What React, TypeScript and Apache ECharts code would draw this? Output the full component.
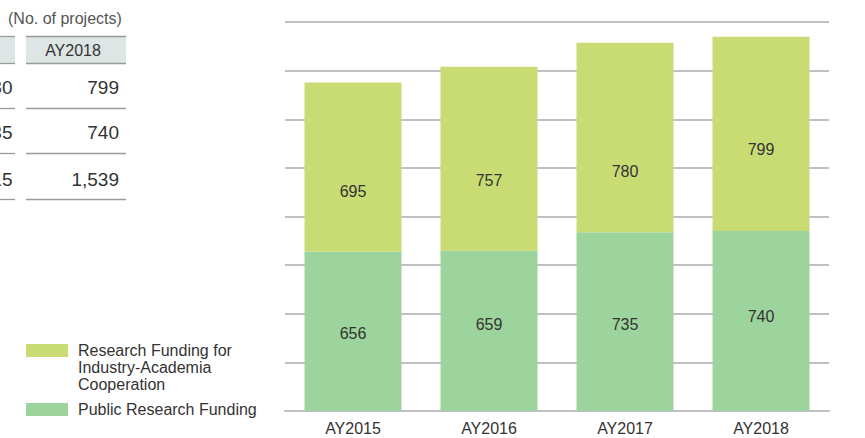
import React, { useEffect, useRef } from "react";
import * as echarts from "echarts";

const categories = ["AY2015", "AY2016", "AY2017", "AY2018"];
const publicFunding = [656, 659, 735, 740];
const industryFunding = [695, 757, 780, 799];
const legendNames = ["Research Funding for\nIndustry-Academia\nCooperation", "Public Research Funding"];
const tableUnit = "(No. of projects)";
const tableHeader = ["AY2017", "AY2018"];
const tableRows = [
  ["780", "799"],
  ["735", "740"],
  ["1,515", "1,539"],
];

const FONT = "'Liberation Sans', Arial, Helvetica, sans-serif";
const YELLOW = "#c9dc73";
const GREEN = "#9dd39c";
const GRID = "#c0c0c4";
const TEXT = "#333";

export default function App() {
  const ref = useRef<HTMLDivElement>(null);
  useEffect(() => {
    if (!ref.current) return;
    const chart = echarts.init(ref.current, null, { renderer: "svg" });
    const industryOffsets = [24, 22, 34, 16];
    const publicOffsets = [2, -6, 3, -5];

    const graphics: any[] = [];
    graphics.push({
      type: "text", x: 8, y: 18,
      style: { text: tableUnit, fill: "#555", font: `16px ${FONT}`, verticalAlign: "middle" },
    });
    // header cells
    graphics.push({ type: "rect", shape: { x: -10, y: 36.5, width: 25, height: 27 }, style: { fill: "#dde5e5" } });
    graphics.push({ type: "rect", shape: { x: 26, y: 36.5, width: 100, height: 27 }, style: { fill: "#dde5e5" } });
    [36.5, 63.5].forEach((y) => {
      graphics.push({ type: "line", shape: { x1: 0, y1: y, x2: 15, y2: y }, style: { stroke: "#9a9a9a", lineWidth: 1.3 } });
      graphics.push({ type: "line", shape: { x1: 26, y1: y, x2: 126, y2: y }, style: { stroke: "#9a9a9a", lineWidth: 1.3 } });
    });
    graphics.push({
      type: "text", x: 73, y: 50,
      style: { text: tableHeader[1], fill: TEXT, font: `16px ${FONT}`, align: "center", verticalAlign: "middle" },
    });
    const rowY = [87, 132, 179];
    const lineY = [108.5, 153.5, 199.5];
    tableRows.forEach((row, i) => {
      graphics.push({
        type: "text", x: 12.5, y: rowY[i],
        style: { text: row[0], fill: TEXT, font: `19px ${FONT}`, align: "right", verticalAlign: "middle" },
      });
      graphics.push({
        type: "text", x: 119, y: rowY[i],
        style: { text: row[1], fill: TEXT, font: `19px ${FONT}`, align: "right", verticalAlign: "middle" },
      });
      graphics.push({ type: "line", shape: { x1: 0, y1: lineY[i], x2: 15, y2: lineY[i] }, style: { stroke: "#9a9a9a", lineWidth: 1.3 } });
      graphics.push({ type: "line", shape: { x1: 26, y1: lineY[i], x2: 126, y2: lineY[i] }, style: { stroke: "#9a9a9a", lineWidth: 1.3 } });
    });
    // legend
    graphics.push({ type: "rect", shape: { x: 26, y: 344, width: 42, height: 13 }, style: { fill: YELLOW } });
    graphics.push({
      type: "text", x: 78, y: 341.5,
      style: { text: legendNames[0], fill: TEXT, font: `16px ${FONT}`, lineHeight: 17, verticalAlign: "top" },
    });
    graphics.push({ type: "rect", shape: { x: 26, y: 403, width: 42, height: 13 }, style: { fill: GREEN } });
    graphics.push({
      type: "text", x: 78, y: 400.5,
      style: { text: legendNames[1], fill: TEXT, font: `16px ${FONT}`, lineHeight: 17, verticalAlign: "top" },
    });

    chart.setOption({
      animation: false,
      textStyle: { fontFamily: FONT },
      grid: { left: 285, right: 36, top: 22, bottom: 27, containLabel: false },
      xAxis: {
        type: "category",
        data: categories,
        axisLine: { lineStyle: { color: GRID, width: 2 } },
        axisTick: { show: false },
        axisLabel: { color: TEXT, fontSize: 16, margin: 9, fontFamily: FONT },
      },
      yAxis: {
        type: "value",
        min: 0,
        max: 1600,
        interval: 200,
        axisLabel: { show: false },
        axisLine: { show: false },
        axisTick: { show: false },
        splitLine: { lineStyle: { color: GRID, width: 2 } },
      },
      series: [
        {
          name: legendNames[1],
          type: "bar",
          stack: "total",
          barWidth: 97,
          itemStyle: { color: GREEN },
          data: publicFunding.map((v, i) => ({
            value: v,
            label: { offset: [0, publicOffsets[i]] },
          })),
          label: { show: true, position: "inside", color: TEXT, fontSize: 16, fontFamily: FONT },
        },
        {
          name: legendNames[0],
          type: "bar",
          stack: "total",
          barWidth: 97,
          itemStyle: { color: YELLOW },
          data: industryFunding.map((v, i) => ({
            value: v,
            label: { offset: [0, industryOffsets[i]] },
          })),
          label: { show: true, position: "inside", color: TEXT, fontSize: 16, fontFamily: FONT },
        },
      ],
      graphic: graphics,
    });
    return () => chart.dispose();
  }, []);
  return (
    <div
      ref={ref}
      style={{ position: "absolute", left: 0, top: 0, width: 865, height: 438, background: "#fff" }}
    />
  );
}
